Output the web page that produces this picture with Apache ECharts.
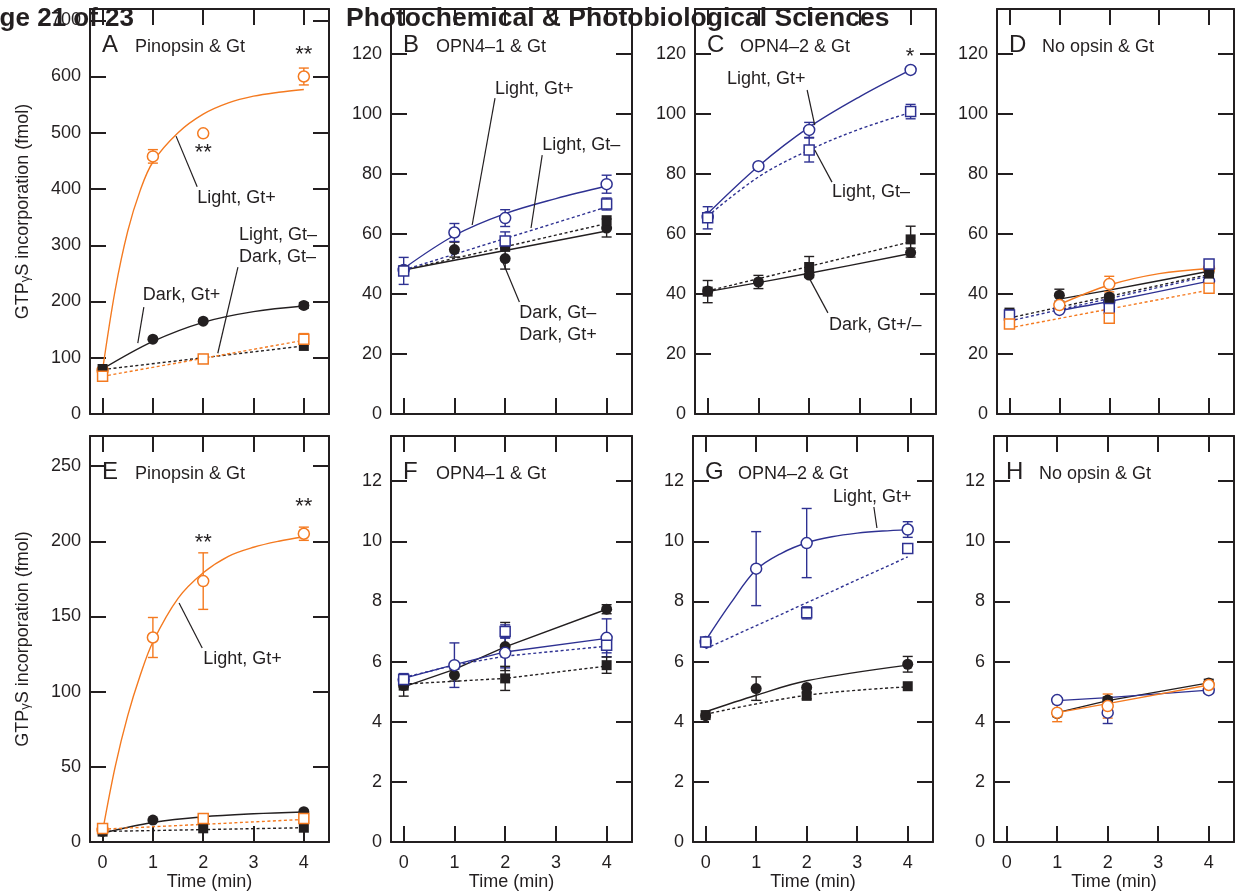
<!DOCTYPE html>
<html>
<head>
<meta charset="utf-8">
<script src="https://cdn.jsdelivr.net/npm/echarts@6/dist/echarts.min.js"></script>
<style>
  html, body { margin: 0; padding: 0; background: #fff; }
  #chart { width: 1235px; height: 892px; }
</style>
</head>
<body>
<div id="chart"></div>
<script>
const FONT = '"Liberation Sans", Arial, Helvetica, sans-serif';
const INK = '#231f20', ORANGE = '#f47a20', BLUE = '#2e3192';

// tick labels
const timeTicks = [0, 1, 2, 3, 4];
const yTicksA = [0, 100, 200, 300, 400, 500, 600, 700];
const yTicksBCD = [0, 20, 40, 60, 80, 100, 120];
const yTicksE = [0, 50, 100, 150, 200, 250];
const yTicksFGH = [0, 2, 4, 6, 8, 10, 12];

// A  Pinopsin (top row)
const aLightPlus = [[0, 78, 0], [1, 458, 12], [2, 499, 3], [4, 600, 15]];
const aLightMinus = [[0, 67, 0], [2, 98, 0], [4, 133, 10]];
const aDarkPlus = [[0, 78, 0], [1, 133, 0], [2, 165, 0], [4, 193, 5]];
const aDarkMinus = [[0, 80, 0], [2, 98, 0], [4, 121, 0]];
const aLightPlusFit = [[0, 78], [0.25, 220], [0.5, 325], [0.75, 398], [1, 448], [1.5, 500], [2, 533], [2.5, 553], [3, 565], [3.5, 572], [4, 577]];
const aLightMinusFit = [[0, 67], [4, 131]];
const aDarkPlusFit = [[0, 80], [1, 129], [2, 163], [3, 182], [4, 192]];
const aDarkMinusFit = [[0, 79], [4, 121]];

// B  OPN4-1
const bLightPlus = [[0, 48, 0], [1, 60.5, 3], [2, 65.3, 2.8], [4, 76.6, 3]];
const bLightMinus = [[0, 47.7, 4.5], [2, 57.7, 3], [4, 70, 2]];
const bDarkPlus = [[0, 48, 0], [1, 54.8, 2.5], [2, 51.8, 3.5], [4, 62, 3]];
const bDarkMinus = [[0, 48, 0], [2, 55.7, 0], [4, 64.6, 0]];
const bLightPlusFit = [[0, 48.5], [1, 59.5], [2, 66.8], [3, 71.8], [4, 76]];
const bLightMinusFit = [[0, 48], [4, 69]];
const bDarkPlusFit = [[0, 48], [4, 61]];
const bDarkMinusFit = [[0, 48], [4, 63.5]];

// C  OPN4-2
const cLightPlus = [[0, 65.7, 0], [1, 82.6, 1], [2, 94.7, 2.5], [4, 114.7, 1]];
const cLightMinus = [[0, 65.4, 3.7], [2, 88, 4], [4, 100.8, 2.4]];
const cDarkPlus = [[0, 41, 0], [1, 44, 2.2], [2, 46.3, 0], [4, 53.8, 1.5]];
const cDarkMinus = [[0, 40.8, 3.7], [2, 49, 3.5], [4, 58.2, 4.4]];
const cLightPlusFit = [[0, 66.8], [1, 82.6], [2, 95.6], [3, 105.8], [4, 114.7]];
const cLightMinusFit = [[0, 66], [1, 79], [2, 88], [3, 95], [4, 100.5]];
const cDarkPlusFit = [[0, 40.8], [2, 46.9], [4, 53.5]];
const cDarkMinusFit = [[0, 41], [2, 49.2], [4, 57.4]];

// D  No opsin
const dBlackCircle = [[1, 39.6, 2], [2, 39, 0], [4, 47.4, 0]];
const dOrangeCircle = [[1, 36.3, 1], [2, 43.3, 2.6], [4, 48.5, 1]];
const dBlueCircle = [[1, 34.7, 0], [2, 37.4, 0], [4, 44.3, 0]];
const dBlackSquare = [[0, 33.8, 0], [2, 38.5, 0], [4, 46.8, 0]];
const dBlueSquare = [[0, 33, 0], [2, 35.2, 0], [4, 50, 0]];
const dOrangeSquare = [[0, 30, 0], [2, 31.9, 0], [4, 41.9, 0]];
const dBlackCircleFit = [[1, 38.3], [2, 41.3], [4, 47.6]];
const dOrangeCircleFit = [[1, 36.5], [2, 43], [3, 46.8], [4, 48.5]];
const dBlueCircleFit = [[1, 34.5], [2, 37.5], [4, 44.3]];
const dBlackSquareFit = [[0, 32], [4, 46.5]];
const dBlueSquareFit = [[0, 31], [4, 46]];
const dOrangeSquareFit = [[0, 28.7], [4, 41.3]];

// E  Pinopsin (bottom row)
const eLightPlus = [[0, 8, 0], [1, 136, 13.3], [2, 173.5, 18.8], [4, 205, 4.4]];
const eLightMinus = [[0, 8.9, 0], [2, 15.7, 2], [4, 15.7, 0]];
const eDarkPlus = [[0, 7, 0], [1, 14.6, 0], [2, 15.7, 0], [4, 20.2, 0]];
const eDarkMinus = [[0, 6.9, 0], [2, 9.1, 0], [4, 9.5, 0]];
const eLightPlusFit = [[0, 7], [0.25, 50], [0.5, 84], [0.75, 111], [1, 133], [1.5, 162], [2, 179], [2.5, 190], [3, 196], [3.5, 200], [4, 203]];
const eLightMinusFit = [[0, 8.5], [4, 15]];
const eDarkPlusFit = [[0, 6], [1, 13], [2, 16.8], [3, 18.8], [4, 20]];
const eDarkMinusFit = [[0, 7], [4, 9.5]];

// F  OPN4-1
const fLightPlus = [[0, 5.4, 0], [1, 5.88, 0.74], [2, 6.29, 0.5], [4, 6.79, 0.63]];
const fLightMinus = [[0, 5.4, 0.2], [2, 7.0, 0.22], [4, 6.54, 0.25]];
const fDarkPlus = [[0, 5.2, 0], [1, 5.55, 0.2], [2, 6.5, 0.8], [4, 7.74, 0.15]];
const fDarkMinus = [[0, 5.2, 0.35], [2, 5.44, 0.4], [4, 5.88, 0.27]];
const fLightPlusFit = [[0, 5.44], [1, 5.9], [2, 6.32], [4, 6.77]];
const fLightMinusFit = [[0, 5.47], [1, 5.88], [2, 6.18], [4, 6.51]];
const fDarkPlusFit = [[0, 5.16], [1, 5.74], [2, 6.49], [4, 7.74]];
const fDarkMinusFit = [[0, 5.25], [2, 5.44], [4, 5.85]];

// G  OPN4-2
const gLightPlus = [[0, 6.65, 0], [1, 9.09, 1.23], [2, 9.94, 1.15], [4, 10.39, 0.26]];
const gLightMinus = [[0, 6.65, 0], [2, 7.62, 0.2], [4, 9.76, 0]];
const gDarkPlus = [[0, 4.2, 0], [1, 5.1, 0.39], [2, 5.14, 0], [4, 5.91, 0.26]];
const gDarkMinus = [[0, 4.22, 0], [2, 4.86, 0.1], [4, 5.18, 0]];
const gLightPlusFit = [[0, 6.7], [0.5, 7.95], [1, 9.05], [1.5, 9.6], [2, 9.95], [2.5, 10.15], [3, 10.27], [3.5, 10.34], [4, 10.38]];
const gLightMinusFit = [[0, 6.43], [4, 9.48]];
const gDarkPlusFit = [[0, 4.33], [1, 4.88], [2, 5.36], [4, 5.88]];
const gDarkMinusFit = [[0, 4.25], [2, 4.88], [4, 5.16]];

// H  No opsin
const hBlue = [[1, 4.72, 0.08], [2, 4.3, 0.36], [4, 5.05, 0.1]];
const hOrange = [[1, 4.3, 0.3], [2, 4.52, 0.4], [4, 5.22, 0.1]];
const hBlack = [[1, 4.27, 0.1], [2, 4.72, 0.1], [4, 5.29, 0.12]];
const hBlueFit = [[1, 4.7], [2, 4.8], [4, 5.05]];
const hOrangeFit = [[1, 4.3], [2, 4.6], [4, 5.22]];
const hBlackFit = [[1, 4.3], [2, 4.7], [4, 5.29]];

const panels = [
  { letter: 'A', title: 'Pinopsin & Gt', grid: { left: 90, top: 9, width: 239, height: 405 }, yMax: 720, yTicks: yTicksA },
  { letter: 'B', title: 'OPN4\u20131 & Gt', grid: { left: 391, top: 9, width: 241, height: 405 }, yMax: 135, yTicks: yTicksBCD },
  { letter: 'C', title: 'OPN4\u20132 & Gt', grid: { left: 695, top: 9, width: 241, height: 405 }, yMax: 135, yTicks: yTicksBCD },
  { letter: 'D', title: 'No opsin & Gt', grid: { left: 997, top: 9, width: 237, height: 405 }, yMax: 135, yTicks: yTicksBCD },
  { letter: 'E', title: 'Pinopsin & Gt', grid: { left: 90, top: 436, width: 239, height: 406 }, yMax: 270, yTicks: yTicksE },
  { letter: 'F', title: 'OPN4\u20131 & Gt', grid: { left: 391, top: 436, width: 241, height: 406 }, yMax: 13.5, yTicks: yTicksFGH },
  { letter: 'G', title: 'OPN4\u20132 & Gt', grid: { left: 693, top: 436, width: 240, height: 406 }, yMax: 13.5, yTicks: yTicksFGH },
  { letter: 'H', title: 'No opsin & Gt', grid: { left: 994, top: 436, width: 240, height: 406 }, yMax: 13.5, yTicks: yTicksFGH },
];

// [panel, points, fit, color, symbol, filled, dashed, smooth]
const groups = [
  [0, aDarkPlus, aDarkPlusFit, INK, 'circle', true, false, true],
  [0, aLightPlus, aLightPlusFit, ORANGE, 'circle', false, false, true],
  [0, aDarkMinus, aDarkMinusFit, INK, 'rect', true, true, false],
  [0, aLightMinus, aLightMinusFit, ORANGE, 'rect', false, true, false],
  [1, bDarkPlus, bDarkPlusFit, INK, 'circle', true, false, false],
  [1, bLightPlus, bLightPlusFit, BLUE, 'circle', false, false, true],
  [1, bDarkMinus, bDarkMinusFit, INK, 'rect', true, true, false],
  [1, bLightMinus, bLightMinusFit, BLUE, 'rect', false, true, false],
  [2, cDarkPlus, cDarkPlusFit, INK, 'circle', true, false, true],
  [2, cLightPlus, cLightPlusFit, BLUE, 'circle', false, false, true],
  [2, cDarkMinus, cDarkMinusFit, INK, 'rect', true, true, true],
  [2, cLightMinus, cLightMinusFit, BLUE, 'rect', false, true, true],
  [3, dBlackCircle, dBlackCircleFit, INK, 'circle', true, false, true],
  [3, dBlueCircle, dBlueCircleFit, BLUE, 'circle', false, false, true],
  [3, dOrangeCircle, dOrangeCircleFit, ORANGE, 'circle', false, false, true],
  [3, dBlackSquare, dBlackSquareFit, INK, 'rect', true, true, false],
  [3, dBlueSquare, dBlueSquareFit, BLUE, 'rect', false, true, false],
  [3, dOrangeSquare, dOrangeSquareFit, ORANGE, 'rect', false, true, false],
  [4, eDarkPlus, eDarkPlusFit, INK, 'circle', true, false, true],
  [4, eLightPlus, eLightPlusFit, ORANGE, 'circle', false, false, true],
  [4, eDarkMinus, eDarkMinusFit, INK, 'rect', true, true, false],
  [4, eLightMinus, eLightMinusFit, ORANGE, 'rect', false, true, false],
  [5, fDarkPlus, fDarkPlusFit, INK, 'circle', true, false, false],
  [5, fLightPlus, fLightPlusFit, BLUE, 'circle', false, false, false],
  [5, fDarkMinus, fDarkMinusFit, INK, 'rect', true, true, false],
  [5, fLightMinus, fLightMinusFit, BLUE, 'rect', false, true, false],
  [6, gDarkPlus, gDarkPlusFit, INK, 'circle', true, false, true],
  [6, gLightPlus, gLightPlusFit, BLUE, 'circle', false, false, true],
  [6, gDarkMinus, gDarkMinusFit, INK, 'rect', true, true, true],
  [6, gLightMinus, gLightMinusFit, BLUE, 'rect', false, true, false],
  [7, hBlack, hBlackFit, INK, 'circle', true, false, false],
  [7, hBlue, hBlueFit, BLUE, 'circle', false, false, false],
  [7, hOrange, hOrangeFit, ORANGE, 'circle', false, false, false],
];

// text annotations: [panel, text, time, value, align]
const notes = [
  [0, '**', 4.0, 638, 'center'],
  [0, '**', 2.0, 464, 'center'],
  [0, 'Light, Gt+', 1.88, 384, 'left'],
  [0, 'Light, Gt\u2013', 2.71, 318, 'left'],
  [0, 'Dark, Gt\u2013', 2.71, 279, 'left'],
  [0, 'Dark, Gt+', 0.80, 212, 'left'],
  [1, 'Light, Gt+', 1.80, 108.3, 'left'],
  [1, 'Light, Gt\u2013', 2.73, 89.7, 'left'],
  [1, 'Dark, Gt\u2013', 2.28, 33.7, 'left'],
  [1, 'Dark, Gt+', 2.28, 26.3, 'left'],
  [2, 'Light, Gt+', 0.38, 111.7, 'left'],
  [2, 'Light, Gt\u2013', 2.45, 74, 'left'],
  [2, 'Dark, Gt+/\u2013', 2.39, 29.7, 'left'],
  [2, '*', 3.99, 119, 'center'],
  [4, '**', 2.0, 198.8, 'center'],
  [4, '**', 4.0, 222.8, 'center'],
  [4, 'Light, Gt+', 2.0, 121.7, 'left'],
  [6, 'Light, Gt+', 2.52, 11.47, 'left'],
];
// leader lines: [panel, t1, v1, t2, v2]
const leaders = [
  [0, 1.46, 494, 1.88, 404],
  [0, 2.69, 261, 2.29, 108],
  [0, 0.82, 190, 0.70, 126],
  [1, 1.80, 105.3, 1.35, 63],
  [1, 2.73, 86.3, 2.51, 62],
  [1, 2.28, 37.3, 1.96, 50.3],
  [2, 1.96, 108, 2.11, 96.3],
  [2, 2.45, 77.3, 2.11, 88],
  [2, 2.37, 33.7, 2.02, 44.7],
  [4, 1.52, 159, 1.98, 129],
  [6, 3.33, 11.14, 3.39, 10.44],
];

function errorBar(color) {
  return function (params, api) {
    const lo = api.coord([api.value(0), api.value(1)]);
    const hi = api.coord([api.value(0), api.value(2)]);
    const w = 5, st = { stroke: color, lineWidth: 1.4 };
    return {
      type: 'group',
      children: [
        { type: 'line', shape: { x1: lo[0], y1: lo[1], x2: hi[0], y2: hi[1] }, style: st },
        { type: 'line', shape: { x1: lo[0] - w, y1: lo[1], x2: lo[0] + w, y2: lo[1] }, style: st },
        { type: 'line', shape: { x1: hi[0] - w, y1: hi[1], x2: hi[0] + w, y2: hi[1] }, style: st },
      ],
    };
  };
}

const axisLineStyle = { color: INK, width: 2 };
const labelStyle = { color: INK, fontSize: 18, fontFamily: FONT };

const grid = [], xAxis = [], yAxis = [];
panels.forEach((p, i) => {
  grid.push(Object.assign({ outerBoundsMode: 'none', containLabel: false }, p.grid));
  const bottomRow = i >= 4;
  const xBase = {
    type: 'value', gridIndex: i, min: -0.25, max: 4.5, splitLine: { show: false },
    axisLine: { show: true, onZero: false, lineStyle: axisLineStyle },
    axisTick: { show: true, inside: true, length: 16, lineStyle: axisLineStyle, customValues: timeTicks },
  };
  xAxis.push(Object.assign({}, xBase, {
    position: 'bottom',
    axisLabel: Object.assign({ show: bottomRow, customValues: timeTicks, margin: 12 }, labelStyle),
    name: bottomRow ? 'Time (min)' : '',
    nameLocation: 'middle', nameGap: 31,
    nameTextStyle: labelStyle,
  }));
  xAxis.push(Object.assign({}, xBase, { position: 'top', axisLabel: { show: false } }));

  const yBase = {
    type: 'value', gridIndex: i, min: 0, max: p.yMax, splitLine: { show: false },
    axisLine: { show: true, onZero: false, lineStyle: axisLineStyle },
    axisTick: { show: true, inside: true, length: 16, lineStyle: axisLineStyle, customValues: p.yTicks },
  };
  const showName = i === 0 || i === 4;
  yAxis.push(Object.assign({}, yBase, {
    position: 'left',
    axisLabel: Object.assign({ customValues: p.yTicks, margin: 9 }, labelStyle),
    name: showName ? 'GTP{g|\u03b3}S incorporation (fmol)' : '',
    nameLocation: 'middle', nameGap: 58, nameRotate: 90,
    nameTextStyle: Object.assign({ rich: { g: { fontSize: 13, fontFamily: FONT, color: INK, verticalAlign: 'bottom' } } }, labelStyle),
  }));
  yAxis.push(Object.assign({}, yBase, { position: 'right', axisLabel: { show: false } }));
});

const series = [];
groups.forEach(([p, pts, fit, color, shape, filled, dashed, smooth]) => {
  const axes = { xAxisIndex: 2 * p, yAxisIndex: 2 * p };
  series.push(Object.assign({
    type: 'line', data: fit, smooth: smooth ? 0.35 : false,
    symbol: 'none', showSymbol: false, silent: true, z: 2,
    lineStyle: { color, width: 1.4, type: dashed ? [3, 2.5] : 'solid' },
  }, axes));
  const bars = pts.filter(d => d[2] > 0).map(d => [d[0], d[1] - d[2], d[1] + d[2]]);
  if (bars.length) {
    series.push(Object.assign({
      type: 'custom', data: bars, z: 3, silent: true,
      encode: { x: 0, y: [1, 2] }, renderItem: errorBar(color),
    }, axes));
  }
  series.push(Object.assign({
    type: 'scatter', data: pts.map(d => [d[0], d[1]]), symbol: shape,
    symbolSize: shape === 'rect' ? 10 : 11, z: 4, silent: true,
    itemStyle: filled ? { color, opacity: 1 } : { color: '#fff', borderColor: color, borderWidth: 1.5, opacity: 1 },
  }, axes));
});

const chart = echarts.init(document.getElementById('chart'), null, { renderer: 'canvas' });
chart.setOption({ animation: false, backgroundColor: '#fff', grid, xAxis, yAxis, series });

const graphic = [];
const textEl = (x, y, text, size, align, weight) => ({
  type: 'text', x, y, z: 100, silent: true,
  style: { text, fill: INK, fontSize: size, fontFamily: FONT, fontWeight: weight || 'normal', align, verticalAlign: 'middle' },
});
// page header
graphic.push(textEl(134, 19, 'Page 21 of 23', 26, 'right', 'bold'));
graphic.push(textEl(346, 19, 'Photochemical & Photobiological Sciences', 26.5, 'left', 'bold'));
// panel letters and titles
panels.forEach(p => {
  graphic.push(textEl(p.grid.left + 12, p.grid.top + 36, p.letter, 24, 'left'));
  graphic.push(textEl(p.grid.left + 45, p.grid.top + 38, p.title, 18, 'left'));
});
const toPx = (p, t, v) => chart.convertToPixel({ xAxisIndex: 2 * p, yAxisIndex: 2 * p }, [t, v]);
notes.forEach(([p, text, t, v, align]) => {
  const pt = toPx(p, t, v);
  const star = text.indexOf('*') === 0;
  graphic.push(textEl(pt[0], pt[1], text, star ? 22 : 18, align));
});
leaders.forEach(([p, t1, v1, t2, v2]) => {
  const a = toPx(p, t1, v1), b = toPx(p, t2, v2);
  graphic.push({
    type: 'line', z: 100, silent: true,
    shape: { x1: a[0], y1: a[1], x2: b[0], y2: b[1] },
    style: { stroke: INK, lineWidth: 1.2 },
  });
});
chart.setOption({ graphic });
</script>
</body>
</html>
